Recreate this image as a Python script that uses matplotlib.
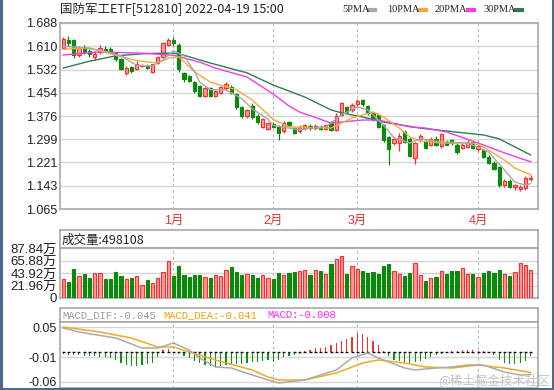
import numpy as np
import matplotlib
matplotlib.use('Agg')
from matplotlib import pyplot as plt
from matplotlib.lines import Line2D

plt.rcParams['font.family'] = ['Liberation Sans', 'Noto Sans CJK SC', 'DejaVu Sans']

# ---- data (90 trading days, 2021-12-03 .. 2022-04-19) ----
opens = [1.605, 1.630, 1.630, 1.580, 1.608, 1.595, 1.575, 1.590, 1.602, 1.600,
         1.588, 1.568, 1.522, 1.540, 1.533, 1.543, 1.545, 1.525, 1.555, 1.575,
         1.615, 1.632, 1.615, 1.522, 1.510, 1.490, 1.478, 1.442, 1.470, 1.443,
         1.455, 1.470, 1.475, 1.450, 1.405, 1.376, 1.410, 1.378, 1.340, 1.332,
         1.350, 1.340, 1.325, 1.355, 1.335, 1.325, 1.335, 1.342, 1.335, 1.340,
         1.333, 1.355, 1.330, 1.380, 1.405, 1.395, 1.418, 1.430, 1.410, 1.385,
         1.380, 1.345, 1.305, 1.285, 1.285, 1.322, 1.300, 1.235, 1.298, 1.292,
         1.280, 1.300, 1.275, 1.290, 1.295, 1.280, 1.270, 1.274, 1.288, 1.265,
         1.262, 1.240, 1.220, 1.205, 1.146, 1.160, 1.138, 1.133, 1.135, 1.165]
closes = [1.635, 1.620, 1.580, 1.605, 1.590, 1.585, 1.585, 1.605, 1.595, 1.594,
          1.566, 1.535, 1.538, 1.527, 1.552, 1.547, 1.538, 1.550, 1.575, 1.620,
          1.630, 1.620, 1.535, 1.500, 1.495, 1.460, 1.442, 1.470, 1.445, 1.460,
          1.472, 1.485, 1.455, 1.405, 1.375, 1.395, 1.372, 1.355, 1.365, 1.352,
          1.340, 1.320, 1.352, 1.345, 1.320, 1.340, 1.345, 1.335, 1.342, 1.333,
          1.345, 1.330, 1.378, 1.420, 1.390, 1.415, 1.428, 1.418, 1.385, 1.365,
          1.340, 1.295, 1.265, 1.300, 1.310, 1.290, 1.242, 1.285, 1.310, 1.270,
          1.300, 1.280, 1.315, 1.280, 1.285, 1.256, 1.280, 1.290, 1.270, 1.275,
          1.240, 1.220, 1.198, 1.145, 1.160, 1.140, 1.145, 1.140, 1.170, 1.170]
highs = [1.640, 1.645, 1.635, 1.610, 1.615, 1.600, 1.595, 1.615, 1.610, 1.608,
         1.590, 1.570, 1.545, 1.545, 1.560, 1.550, 1.550, 1.552, 1.578, 1.625,
         1.638, 1.640, 1.620, 1.525, 1.515, 1.495, 1.480, 1.475, 1.475, 1.465,
         1.478, 1.490, 1.480, 1.455, 1.410, 1.400, 1.420, 1.382, 1.370, 1.358,
         1.355, 1.345, 1.360, 1.360, 1.340, 1.345, 1.350, 1.350, 1.350, 1.345,
         1.350, 1.360, 1.385, 1.425, 1.410, 1.420, 1.432, 1.435, 1.415, 1.390,
         1.385, 1.350, 1.310, 1.305, 1.320, 1.330, 1.305, 1.290, 1.315, 1.300,
         1.305, 1.310, 1.320, 1.295, 1.300, 1.285, 1.285, 1.295, 1.290, 1.280,
         1.265, 1.245, 1.225, 1.210, 1.165, 1.165, 1.150, 1.145, 1.175, 1.178]
lows = [1.600, 1.610, 1.570, 1.575, 1.585, 1.575, 1.565, 1.585, 1.590, 1.590,
        1.560, 1.530, 1.515, 1.520, 1.530, 1.540, 1.535, 1.520, 1.550, 1.570,
        1.610, 1.610, 1.525, 1.490, 1.490, 1.455, 1.440, 1.440, 1.440, 1.440,
        1.450, 1.465, 1.450, 1.400, 1.370, 1.370, 1.368, 1.350, 1.335, 1.330,
        1.335, 1.296, 1.320, 1.340, 1.315, 1.320, 1.330, 1.330, 1.330, 1.330,
        1.328, 1.325, 1.325, 1.375, 1.385, 1.390, 1.410, 1.410, 1.380, 1.360,
        1.335, 1.290, 1.213, 1.280, 1.260, 1.285, 1.240, 1.215, 1.290, 1.265,
        1.275, 1.275, 1.270, 1.278, 1.280, 1.250, 1.265, 1.270, 1.265, 1.260,
        1.235, 1.215, 1.195, 1.140, 1.140, 1.135, 1.130, 1.125, 1.130, 1.160]

# volume in 万
volumes = [33.4, 28.9, 51.1, 38.9, 41.7, 35.6, 43.9, 43.9, 33.4, 33.4,
           45.6, 38.9, 33.4, 34.5, 38.9, 23.3, 31.7, 26.1, 35.6, 45.6,
           65.0, 38.9, 56.7, 41.1, 37.2, 40.0, 40.0, 37.2, 34.5, 40.0,
           38.9, 48.4, 55.0, 45.6, 41.1, 41.7, 40.0, 34.5, 40.0, 34.5,
           33.4, 43.9, 40.0, 43.9, 45.6, 47.3, 49.5, 40.0, 49.0, 47.3,
           41.7, 59.5, 69.0, 73.4, 41.7, 56.7, 51.1, 46.7, 43.9, 45.6,
           41.7, 56.7, 59.5, 47.3, 41.7, 38.3, 43.9, 61.2, 40.0, 30.6,
           34.5, 36.1, 47.3, 41.7, 47.3, 47.3, 52.8, 41.7, 41.7, 37.2,
           44.5, 47.3, 44.5, 48.4, 41.7, 38.3, 45.6, 61.2, 57.8, 49.8]

# moving averages, read at key points (bar index, price)
ma5_idx = [0, 4, 8, 11, 14, 17, 19, 21, 23, 25, 26, 28, 31, 34, 36, 39, 40, 43, 45,
           47, 50, 53, 56, 58, 61, 63, 66, 68, 72, 77, 81, 84, 86, 88, 89]
ma5_val = [1.610, 1.605, 1.593, 1.578, 1.546, 1.544, 1.565, 1.595, 1.578, 1.525, 1.490,
           1.465, 1.464, 1.435, 1.400, 1.366, 1.345, 1.336, 1.330, 1.336, 1.340,
           1.380, 1.407, 1.397, 1.346, 1.303, 1.286, 1.300, 1.290, 1.286, 1.256,
           1.196, 1.155, 1.145, 1.150]
ma10_idx = [0, 5, 10, 14, 18, 20, 22, 25, 28, 33, 36, 40, 43, 47, 51, 55, 59, 61,
            64, 66, 68, 72, 78, 80, 84, 86, 89]
ma10_val = [1.600, 1.605, 1.580, 1.562, 1.554, 1.570, 1.575, 1.525, 1.490, 1.464,
            1.430, 1.365, 1.340, 1.338, 1.336, 1.370, 1.390, 1.373, 1.336, 1.306,
            1.293, 1.286, 1.286, 1.273, 1.229, 1.202, 1.180]
ma20_idx = [0, 7, 15, 21, 26, 29, 35, 40, 43, 45, 51, 57, 60, 66, 69, 73, 79, 84, 89]
ma20_val = [1.581, 1.591, 1.587, 1.580, 1.557, 1.537, 1.507, 1.450, 1.410, 1.390,
            1.353, 1.363, 1.363, 1.340, 1.336, 1.323, 1.286, 1.253, 1.223]
ma30_idx = [0, 5, 10, 16, 21, 23, 28, 35, 40, 46, 51, 53, 57, 61, 68, 71, 80, 83, 89]
ma30_val = [1.537, 1.560, 1.578, 1.586, 1.587, 1.580, 1.554, 1.521, 1.480, 1.440,
            1.397, 1.387, 1.373, 1.356, 1.336, 1.330, 1.313, 1.300, 1.246]

# MACD
dif_idx = [0, 3, 10, 15, 18, 21, 24, 26, 29, 32, 36, 39, 41, 46, 49, 52, 55, 58,
           60, 65, 67, 71, 74, 77, 80, 84, 87, 89]
dif_val = [0.048, 0.040, 0.028, 0.008, 0.008, 0.018, 0.004, -0.012, -0.030, -0.032,
           -0.046, -0.056, -0.062, -0.056, -0.046, -0.036, -0.012, -0.002, -0.012,
           -0.032, -0.036, -0.032, -0.030, -0.026, -0.026, -0.040, -0.046, -0.045]
dea_idx = [0, 7, 13, 18, 21, 24, 29, 36, 39, 41, 46, 52, 57, 60, 65, 69, 74, 79, 84, 89]
dea_val = [0.050, 0.040, 0.028, 0.010, 0.010, 0.000, -0.016, -0.036, -0.050, -0.056,
           -0.056, -0.042, -0.022, -0.016, -0.022, -0.030, -0.032, -0.026, -0.032, -0.041]
macd_hist = [-0.003, -0.006, -0.006, -0.006, -0.008, -0.008, -0.008, -0.010, -0.010, -0.012,
             -0.016, -0.022, -0.026, -0.028, -0.028, -0.026, -0.024, -0.022, -0.010, 0.004,
             0.006, 0.001, -0.004, -0.008, -0.012, -0.018, -0.022, -0.026, -0.028, -0.030,
             -0.028, -0.026, -0.024, -0.024, -0.024, -0.022, -0.020, -0.020, -0.018, -0.016,
             -0.020, -0.016, -0.010, -0.008, -0.006, -0.004, 0.002, 0.004, 0.008, 0.008,
             0.010, 0.014, 0.018, 0.022, 0.026, 0.030, 0.038, 0.036, 0.030, 0.022,
             0.014, 0.002, -0.008, -0.016, -0.018, -0.022, -0.022, -0.020, -0.018, -0.014,
             -0.010, -0.006, -0.004, -0.002, 0.002, 0.002, 0.004, 0.004, 0.004, 0.002,
             0.002, -0.002, -0.006, -0.016, -0.022, -0.024, -0.024, -0.022, -0.018, -0.008]

month_idx = [21, 40, 56, 79]
month_labels = ['1月', '2月', '3月', '4月']
price_ticks = [1.065, 1.143, 1.221, 1.299, 1.376, 1.454, 1.532, 1.610, 1.688]
vol_ticks = [0, 21.96, 43.92, 65.88, 87.84]
vol_labels = ['0', '21.96万', '43.92万', '65.88万', '87.84万']
macd_ticks = [0.05, -0.01, -0.06]

RED = '#ff2a2a'
PINK = '#ff9a9a'
GREEN = '#0a8a0a'
GRID = '#d6d6d6'
FRAME = '#a8a8a8'

W, H = 554, 390
fig = plt.figure(figsize=(W / 100, H / 100), dpi=100)
fig.patch.set_facecolor('white')


def rect(x0, y0, x1, y1):
    return [x0 / W, 1 - y1 / H, (x1 - x0) / W, (y1 - y0) / H]


def style(ax):
    for s in ax.spines.values():
        s.set_color(FRAME)
        s.set_linewidth(1.2)
    ax.tick_params(length=0, labelsize=9, colors='#222222', pad=2)
    ax.set_xlim(-0.6, 90.4)
    for m in month_idx:
        ax.axvline(m, color='#b8b8b8', lw=0.8, ls=(0, (2.5, 2.5)), zorder=0)


n = len(closes)
x = np.arange(n)
o = np.array(opens)
c = np.array(closes)
up = c >= o

# ---- main candle chart ----
ax = fig.add_axes(rect(60, 23, 538, 209))
style(ax)
ax.set_ylim(1.065, 1.688)
ax.set_yticks(price_ticks)
ax.set_yticklabels(['%.3f' % t for t in price_ticks])
ax.yaxis.grid(True, color=GRID, lw=1)
ax.set_axisbelow(True)
ax.set_xticks(month_idx)
ax.set_xticklabels(month_labels, color='#e8322c', fontsize=9)
ax.tick_params(axis='x', pad=4)

ax.vlines(x[up], np.array(lows)[up], np.array(highs)[up], color=RED, lw=0.9, zorder=2)
ax.vlines(x[~up], np.array(lows)[~up], np.array(highs)[~up], color=GREEN, lw=0.9, zorder=2)
body_lo = np.minimum(o, c)
body_h = np.maximum(np.abs(c - o), 0.002)
ax.bar(x[up], body_h[up], bottom=body_lo[up], width=0.62, color=PINK,
       edgecolor=RED, lw=0.8, zorder=3)
ax.bar(x[~up], body_h[~up], bottom=body_lo[~up], width=0.62, color=GREEN,
       edgecolor=GREEN, lw=0.8, zorder=3)

ax.plot(ma30_idx, ma30_val, color='#2f7d52', lw=1.0, zorder=4)
ax.plot(ma20_idx, ma20_val, color='#ee3cee', lw=1.0, zorder=4)
ax.plot(ma10_idx, ma10_val, color='#f0aa3c', lw=1.0, zorder=4)
ax.plot(ma5_idx, ma5_val, color='#a8a8a8', lw=1.0, zorder=4)

fig.text(60 / W, 1 - 9 / H, '国防军工ETF[512810] 2022-04-19 15:00', fontsize=9,
         family=['Noto Sans CJK SC', 'DejaVu Sans'], color='#222222', va='center')

legend = [('5PMA', '#a8a8a8', 342), ('10PMA', '#f0aa3c', 387),
          ('20PMA', '#ee3cee', 435), ('30PMA', '#2f7d52', 483)]
for name, col, px in legend:
    t = fig.text(px / W, 1 - 10 / H, name, fontsize=7.5, color='#222222',
                 va='center', family='Liberation Serif')
    wpx = len(name) * 6.2
    fig.add_artist(Line2D([(px + wpx + 2) / W, (px + wpx + 8) / W],
                          [1 - 10 / H, 1 - 10 / H], color=col, lw=3))

# ---- volume ----
axh = fig.add_axes(rect(60, 230, 538, 248))
for s in axh.spines.values():
    s.set_color(FRAME)
    s.set_linewidth(1.2)
axh.set_xticks([])
axh.set_yticks([])
axh.text(0.004, 0.45, '成交量:498108', transform=axh.transAxes, fontsize=9,
         va='center', family=['Noto Sans CJK SC', 'DejaVu Sans'], color='#222222')

axv = fig.add_axes(rect(60, 248, 538, 298))
style(axv)
axv.set_ylim(0, 87.84)
axv.set_yticks(vol_ticks)
axv.set_yticklabels(vol_labels, fontsize=9.5, linespacing=0.8)
axv.yaxis.grid(True, color=GRID, lw=1)
axv.set_axisbelow(True)
axv.set_xticks([])
v = np.array(volumes)
axv.bar(x[up], v[up], width=0.62, color=PINK, edgecolor=RED, lw=0.8, zorder=3)
axv.bar(x[~up], v[~up], width=0.62, color=GREEN, edgecolor=GREEN, lw=0.8, zorder=3)

# ---- MACD ----
axmh = fig.add_axes(rect(60, 308, 538, 322))
for s in axmh.spines.values():
    s.set_color(FRAME)
    s.set_linewidth(1.2)
axmh.set_xticks([])
axmh.set_yticks([])
for txt, col, px in [('MACD_DIF:-0.045', '#999999', 62), ('MACD_DEA:-0.041', '#f0a000', 163),
                     ('MACD:-0.008', '#ff22ff', 267)]:
    fig.text(px / W, 1 - 315.5 / H, txt, fontsize=7.6, color=col, va='center',
             family='Liberation Mono')

axm = fig.add_axes(rect(60, 322, 538, 388))
style(axm)
axm.set_ylim(-0.072, 0.060)
axm.set_yticks(macd_ticks)
axm.set_yticklabels(['0.05', '-0.01', '-0.06'])
axm.yaxis.grid(True, color=GRID, lw=1)
axm.set_axisbelow(True)
axm.set_xticks([])
hv = np.array(macd_hist)
axm.bar(x[hv >= 0], hv[hv >= 0], width=0.22, color='#f03030', zorder=3)
axm.bar(x[hv < 0], hv[hv < 0], width=0.22, color='#109010', zorder=3)
axm.hlines(np.zeros(n), x - 0.28, x + 0.28, color='#111111', lw=1.0, zorder=4)
axm.plot(dea_idx, dea_val, color='#f0aa20', lw=1.1, zorder=5)
axm.plot(dif_idx, dif_val, color='#aaaaaa', lw=1.1, zorder=5)

fig.text(550 / W, 1 - 380 / H, '@稀土掘金技术社区', ha='right', va='center', fontsize=9,
         color='#c4c4c4', family=['Noto Sans CJK SC', 'DejaVu Sans'], zorder=10)

# outer frame
for xs, ys in [([0.002, 0.002], [0, 1]), ([0, 1], [0.003, 0.003]), ([0.998, 0.998], [0, 1])]:
    fig.add_artist(Line2D(xs, ys, color='#4b6a8e', lw=2.2))

fig.savefig('out.png', dpi=100)
